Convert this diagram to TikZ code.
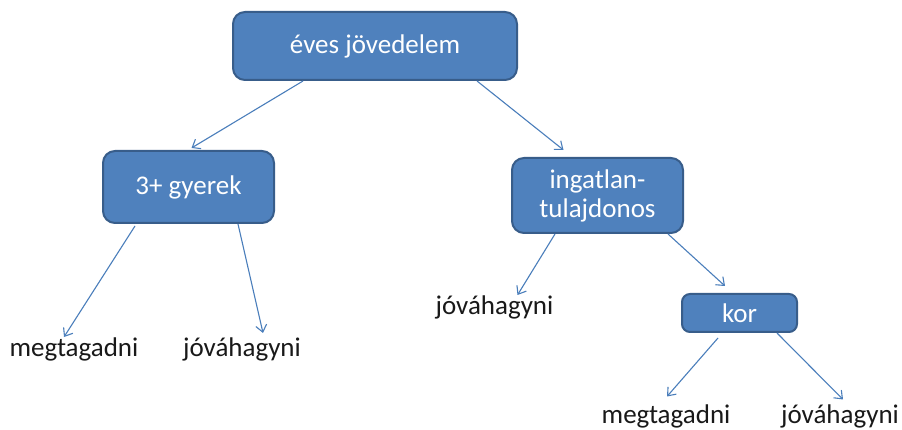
\documentclass[tikz,border=0pt]{standalone}
\usepackage{fontspec}
\setmainfont{Carlito}
\usetikzlibrary{arrows.meta}
\definecolor{boxfill}{HTML}{4F81BD}
\definecolor{boxline}{HTML}{385D8A}
\definecolor{linkcol}{HTML}{4A7EBB}
\begin{document}
\begin{tikzpicture}[x=1pt,y=1pt,
  font=\fontsize{27}{30}\selectfont,
  decision/.style={draw=boxline, line width=2pt, fill=boxfill, text=white,
    rounded corners=12pt, align=center, inner sep=0pt},
  outcome/.style={anchor=base, inner sep=0pt, text=black!90},
  link/.style={draw=linkcol, line width=1.1pt,
    -{Straight Barb[length=7pt,width=11pt,line width=1.1pt]}}]
\useasboundingbox (0,0) rectangle (902,430);
\fill[white] (0,0) rectangle (902,430);

% decision nodes
\node[decision, minimum width=284pt, minimum height=68pt] (root) at (375,384) {éves jövedelem};
\node[decision, minimum width=171pt, minimum height=72pt] (gy) at (188.5,243) {3+ gyerek};
\node[decision, minimum width=171pt, minimum height=75pt] (ing) at (597.5,234.5) {ingatlan-\\[-1pt]tulajdonos};
\node[decision, minimum width=115pt, minimum height=38pt, rounded corners=8pt] (kor) at (739.5,117) {kor};

% outcomes
\node[outcome] (l1) at (74,73) {megtagadni};
\node[outcome] (l2) at (242,73) {jóváhagyni};
\node[outcome] (l3) at (494.5,115) {jóváhagyni};
\node[outcome] (l4) at (666,6.5) {megtagadni};
\node[outcome] (l5) at (840,6.5) {jóváhagyni};

% connectors
\draw[link] ([xshift=-72pt]root.south) -- ([xshift=3pt,yshift=2pt]gy.north);
\draw[link] ([xshift=102pt]root.south) -- ([xshift=-34pt,yshift=7pt]ing.north);
\draw[link] ([xshift=-53.5pt,yshift=-2pt]gy.south) -- ([xshift=-10pt,yshift=20pt]l1.base);
\draw[link] ([xshift=49.5pt]gy.south) -- ([xshift=21pt,yshift=24pt]l2.base);
\draw[link] ([xshift=-42.5pt]ing.south) -- ([xshift=23pt,yshift=20pt]l3.base);
\draw[link] ([xshift=70.5pt]ing.south) -- ([xshift=-14.5pt,yshift=7pt]kor.north);
\draw[link] ([xshift=-21.5pt,yshift=-5pt]kor.south) -- ([xshift=1pt,yshift=27pt]l4.base);
\draw[link] ([xshift=37.5pt]kor.south) -- ([xshift=3pt,yshift=24pt]l5.base);
\end{tikzpicture}
\end{document}
